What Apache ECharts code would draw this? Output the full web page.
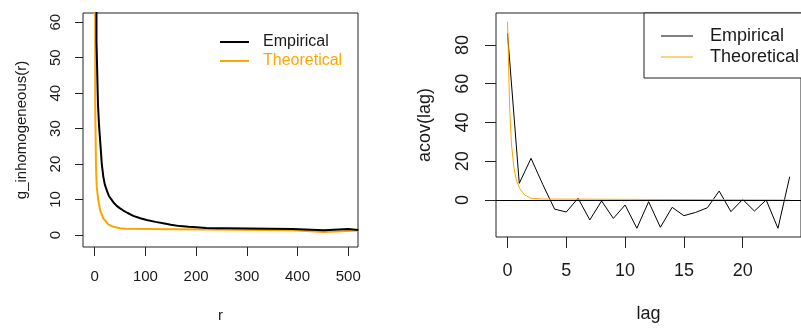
<!DOCTYPE html>
<html>
<head>
<meta charset="utf-8">
<script src="https://cdn.jsdelivr.net/npm/echarts@6/dist/echarts.min.js"></script>
<style>html,body{margin:0;padding:0;background:#fff;}#c{width:801px;height:329px;}</style>
</head>
<body>
<div id="c"></div>
<script>
// ---- Left panel: pair correlation g_inhomogeneous(r) ----
const rEmp = [3.5, 3.5, 6.5, 6.5, 8.5, 8.5, 10, 12, 14, 17, 20, 24, 28, 33.5, 38, 43.4, 50, 56.5, 65, 76, 90, 102.5, 120, 135, 150, 168, 185, 201, 220, 240, 260, 260, 390, 390, 452, 452, 500, 500, 520];
const gEmp = [80, 54.5, 54.5, 36.7, 36.7, 31, 28, 24, 20, 16.4, 14.2, 12.5, 11, 9.9, 9, 8.2, 7.5, 6.9, 6.2, 5.4, 4.7, 4.2, 3.7, 3.3, 2.9, 2.5, 2.3, 2.2, 2.0, 1.9, 1.9, 1.7, 1.7, 1.3, 1.3, 1.7, 1.7, 1.4, 1.4];
const rTheo = [1, 1, 2.5, 2.5, 4, 7, 10.5, 17, 26.8, 36.7, 50, 60, 102, 105, 390, 390, 452, 452, 520];
const gTheo = [80, 36.7, 36.7, 19.5, 13.6, 9.9, 7.1, 4.7, 3.0, 2.3, 1.9, 1.75, 1.7, 1.35, 1.3, 0.85, 0.85, 1.25, 1.25];
const leftXTicks = [0, 100, 200, 300, 400, 500];
const leftYTicks = [0, 10, 20, 30, 40, 50, 60];

// ---- Right panel: autocovariance ----
const lags = [0, 1, 2, 3, 4, 5, 6, 7, 8, 9, 10, 11, 12, 13, 14, 15, 16, 17, 18, 19, 20, 21, 22, 23, 24];
const acovEmp = [86, 8.6, 21.5, 8, -4.7, -6.2, 0.9, -10.3, -0.5, -9.5, -2.6, -14.6, -0.9, -14.1, -3.8, -8.1, -6.4, -4.0, 4.6, -6.0, 0.3, -5.7, 0, -14.6, 12.0];
const lagTheo = [0, 0.05, 0.11, 0.19, 0.33, 0.53, 0.75, 1.03, 1.45, 2.0, 2.5, 3.0, 3.05, 24];
const acovTheo = [92, 80.9, 63.6, 46.5, 29.3, 17.2, 10.3, 6.0, 2.6, 0.9, 0.7, 0.5, 0, 0];
const rightXTicks = [0, 5, 10, 15, 20];
const rightYTicks = [0, 20, 40, 60, 80];

const seriesNames = ['Empirical', 'Theoretical'];

function pairs(xs, ys) { return xs.map((x, i) => [x, ys[i]]); }

const FONT = '"Liberation Sans", Arial, Helvetica, sans-serif';
const TXT = '#1a1a1a';
const ORANGE = '#FFA500';

const chart = echarts.init(document.getElementById('c'), null, { renderer: 'canvas' });

function valAxis(gridIndex, min, max, ticks, opts) {
  return {
    type: 'value', gridIndex: gridIndex, min: min, max: max,
    splitLine: { show: false },
    axisLine: { show: false, onZero: false },
    axisTick: { show: true, customValues: ticks, length: opts.tickLen, inside: false, lineStyle: { color: '#222', width: 1 } },
    axisLabel: { customValues: ticks, margin: opts.margin, rotate: opts.rotate || 0, color: TXT, fontFamily: FONT, fontSize: opts.fs },
    name: opts.name, nameLocation: 'middle', nameGap: opts.nameGap,
    nameTextStyle: { color: TXT, fontFamily: FONT, fontSize: opts.fs }
  };
}

const option = {
  animation: false,
  backgroundColor: '#fff',
  grid: [
    { left: 83, top: 13, width: 275, height: 234, show: true, borderColor: '#222', borderWidth: 1, backgroundColor: 'transparent' },
    { left: 496, top: 13, width: 310, height: 224, show: true, borderColor: '#222', borderWidth: 1, backgroundColor: 'transparent' }
  ],
  xAxis: [
    valAxis(0, -23.1, 519.3, leftXTicks, { tickLen: 9, margin: 22, fs: 15, name: 'r', nameGap: 61 }),
    valAxis(1, -0.98, 24.96, rightXTicks, { tickLen: 11, margin: 25, fs: 18, name: 'lag', nameGap: 68 })
  ],
  yAxis: [
    valAxis(0, -3.39, 62.6, leftYTicks, { tickLen: 8, margin: 20, fs: 15, rotate: 90, name: 'g_inhomogeneous(r)', nameGap: 54 }),
    valAxis(1, -19.1, 96.5, rightYTicks, { tickLen: 11, margin: 24, fs: 18, rotate: 90, name: 'acov(lag)', nameGap: 62 })
  ],
  legend: [
    {
      orient: 'vertical', left: 220, top: 34, padding: 0, itemWidth: 29, itemHeight: 2, itemGap: 3,
      icon: 'rect', selectedMode: false,
      data: [
        { name: seriesNames[0], textStyle: { color: TXT } },
        { name: seriesNames[1], textStyle: { color: ORANGE } }
      ],
      textStyle: { fontFamily: FONT, fontSize: 16, lineHeight: 16, padding: [0, 0, 0, 9] }
    },
    {
      orient: 'vertical', left: 644, top: 13, itemWidth: 32, itemHeight: 1, itemGap: 3,
      icon: 'rect', selectedMode: false,
      padding: [14, 30, 12, 17], borderColor: '#222', borderWidth: 1, backgroundColor: '#fff',
      data: [
        { name: seriesNames[0], textStyle: { color: TXT } },
        { name: seriesNames[1], textStyle: { color: TXT } }
      ],
      textStyle: { fontFamily: FONT, fontSize: 18, lineHeight: 18, padding: [0, 0, 0, 12] }
    }
  ],
  series: [
    { name: seriesNames[0], type: 'line', xAxisIndex: 0, yAxisIndex: 0, data: pairs(rEmp, gEmp), showSymbol: false, symbol: 'none', clip: true, z: 3,
      lineStyle: { color: '#000', width: 2 }, itemStyle: { color: '#000' } },
    { name: seriesNames[1], type: 'line', xAxisIndex: 0, yAxisIndex: 0, data: pairs(rTheo, gTheo), showSymbol: false, symbol: 'none', clip: true, z: 2,
      lineStyle: { color: ORANGE, width: 2 }, itemStyle: { color: ORANGE } },
    { name: seriesNames[0], type: 'line', xAxisIndex: 1, yAxisIndex: 1, data: pairs(lags, acovEmp), showSymbol: false, symbol: 'none', clip: true, z: 3,
      lineStyle: { color: '#000', width: 1 }, itemStyle: { color: '#000' },
      markLine: { silent: true, symbol: 'none', label: { show: false }, lineStyle: { color: '#000', width: 1, type: 'solid' }, data: [{ yAxis: 0 }] } },
    { name: seriesNames[1], type: 'line', xAxisIndex: 1, yAxisIndex: 1, data: pairs(lagTheo, acovTheo), showSymbol: false, symbol: 'none', clip: true, z: 4,
      lineStyle: { color: ORANGE, width: 1 }, itemStyle: { color: ORANGE } }
  ]
};
chart.setOption(option);
</script>
</body>
</html>
